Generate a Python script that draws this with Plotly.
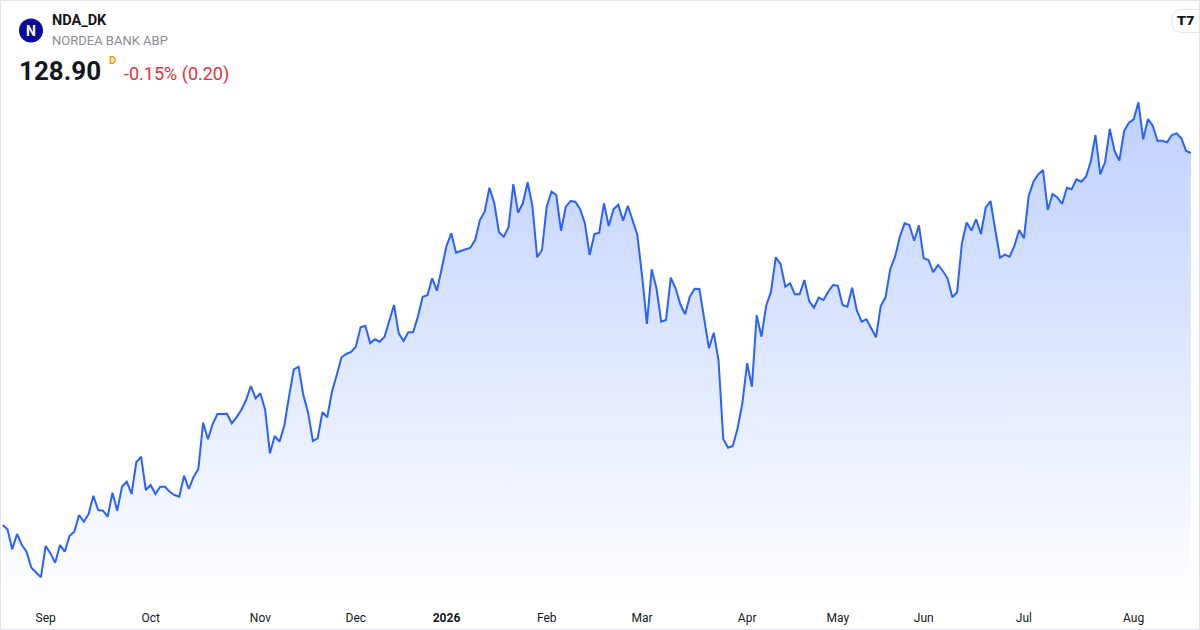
import plotly.graph_objs as go

##################################################
symbol = "NDA_DK"
company = "NORDEA BANK ABP"
last_price = "128.90"
change_text = "-0.15% (0.20)"

# daily closes, late Aug 2025 -> mid Aug 2026
close = [
    91.70, 91.27, 89.27, 90.80, 89.70, 89.03, 87.43, 86.97, 86.47, 89.60,
    88.87, 87.93, 89.70, 89.03, 90.60, 91.03, 92.70, 92.03, 92.80, 94.63,
    93.20, 93.13, 92.53, 94.93, 93.13, 95.53, 96.03, 94.80, 97.97, 98.53,
    95.20, 95.70, 94.80, 95.53, 95.53, 95.03, 94.70, 94.53, 96.63, 95.30,
    96.50, 97.30, 101.93, 100.27, 101.80, 102.80, 102.80, 102.83, 101.87, 102.47,
    103.20, 104.20, 105.60, 104.37, 104.87, 103.20, 98.87, 100.60, 100.03, 101.60,
    104.53, 107.27, 107.53, 104.70, 102.93, 100.10, 100.37, 102.97, 102.47, 105.03,
    106.70, 108.47, 108.80, 109.00, 109.53, 111.47, 111.63, 109.87, 110.27, 110.03,
    110.50, 112.03, 113.70, 110.87, 110.10, 110.97, 110.97, 112.53, 114.53, 114.67,
    116.37, 115.13, 117.53, 119.60, 120.87, 118.93, 119.10, 119.27, 119.43, 120.20,
    122.20, 123.03, 125.43, 123.93, 120.97, 120.53, 121.47, 125.80, 122.93, 123.87,
    125.97, 123.60, 118.47, 119.20, 123.53, 125.03, 124.70, 121.13, 123.53, 124.10,
    124.03, 123.27, 121.87, 118.70, 120.80, 120.93, 123.87, 121.60, 123.27, 123.73,
    122.13, 123.63, 122.20, 120.70, 116.53, 111.80, 117.27, 115.37, 112.03, 112.20,
    116.43, 115.37, 113.77, 112.77, 114.53, 115.33, 115.30, 112.20, 109.37, 110.93,
    108.20, 100.30, 99.43, 99.60, 101.37, 103.87, 107.87, 105.53, 112.67, 110.53,
    113.65, 115.03, 118.47, 117.80, 115.53, 115.87, 114.77, 114.77, 116.20, 114.10,
    113.43, 114.43, 114.20, 115.03, 115.70, 115.63, 113.70, 113.53, 115.43, 113.13,
    112.03, 112.27, 111.37, 110.47, 113.60, 114.47, 117.30, 118.53, 120.53, 121.87,
    121.70, 120.13, 121.67, 118.37, 118.20, 116.97, 117.70, 117.10, 116.37, 114.47,
    114.97, 119.87, 121.95, 121.15, 122.28, 120.80, 123.47, 124.10, 121.20, 118.43,
    118.73, 118.53, 119.60, 121.20, 120.37, 124.60, 126.03, 126.77, 127.20, 123.20,
    124.80, 124.47, 123.80, 125.43, 125.27, 126.27, 126.03, 126.53, 128.03, 130.70,
    126.77, 127.97, 131.30, 129.10, 128.13, 131.10, 131.93, 132.27, 133.97, 130.27,
    132.30, 131.63, 130.13, 130.13, 129.97, 130.70, 130.87, 130.37, 129.10, 128.90,
]

# first trading session of each month (index into close)
tick_idx = [9, 31, 54, 74, 93, 114, 134, 156, 175, 193, 214, 237]
tick_text = ["Sep", "Oct", "Nov", "Dec", "<b>2026</b>", "Feb", "Mar", "Apr", "May", "Jun", "Jul", "Aug"]

##################################################
W, H = 1200, 630
TOP, BOTTOM = 90, 603
y_lo, y_hi = 83.9, 135.2


def px(x):
    return x / W


def py(y):
    return (BOTTOM - y) / (BOTTOM - TOP)


fig = go.Figure()
fig.add_trace(go.Scatter(
    x=list(range(len(close))), y=close, mode="lines",
    line=dict(color="#2962ff", width=2),
    fill="tozeroy",
    fillgradient=dict(type="vertical", start=y_lo, stop=134.0,
                      colorscale=[[0, "rgba(41,98,255,0.0)"], [1, "rgba(41,98,255,0.30)"]]),
    hoverinfo="skip", showlegend=False,
))

##################################################
font = "Roboto, 'Noto Sans', sans-serif"
anns = [
    dict(x=px(31), y=py(30.5), text="<b>N</b>", font=dict(size=14, color="white"), xanchor="center"),
    dict(x=px(50), y=py(21), text="<b>" + symbol + "</b>", font=dict(size=14.5, color="#131722")),
    dict(x=px(50), y=py(41), text=company, font=dict(size=13, color="#8a8d96")),
    dict(x=px(17), y=py(71), text="<b>" + last_price + "</b>", font=dict(size=26, color="#131722")),
    dict(x=px(107), y=py(61), text="<b>D</b>", font=dict(size=11, color="#ff9800")),
    dict(x=px(122), y=py(74), text=change_text, font=dict(size=18, color="#e0323c")),
    dict(x=px(1186), y=py(21), text="<b>T7</b>", font=dict(size=13, color="#131722", family="DejaVu Sans"),
         xanchor="center"),
]
for a in anns:
    a.setdefault("xanchor", "left")
    a.update(xref="paper", yref="paper", yanchor="middle", showarrow=False)
    a["font"].setdefault("family", font)

badge = "M %f,%f L %f,%f L %f,%f L %f,%f Q %f,%f %f,%f Q %f,%f %f,%f Z" % (
    px(1183), py(9.5), px(1199.5), py(9.5), px(1199.5), py(32.5), px(1183), py(32.5),
    px(1171.5), py(32.5), px(1171.5), py(21), px(1171.5), py(9.5), px(1183), py(9.5))

shapes = [
    # card border
    dict(type="rect", x0=px(0.5), x1=px(1199.5), y0=py(629.5), y1=py(0.5),
         line=dict(color="#e0e3eb", width=1)),
    # logo
    dict(type="circle", x0=px(19), x1=px(43), y0=py(42.5), y1=py(18.5),
         fillcolor="#0a0aa0", line=dict(width=0)),
    # tv badge
    dict(type="path", path=badge, line=dict(color="#e3e5ea", width=1), fillcolor="white"),
]
for s in shapes:
    s.update(xref="paper", yref="paper", layer="above")

fig.update_layout(
    width=W, height=H,
    margin=dict(l=0, r=0, t=TOP, b=H - BOTTOM),
    paper_bgcolor="white", plot_bgcolor="white",
    font=dict(family=font, color="#131722"),
    shapes=shapes, annotations=anns,
    showlegend=False,
)
fig.update_xaxes(range=[-0.566, 250.9], tickvals=tick_idx, ticktext=tick_text,
                 showgrid=False, zeroline=False, showline=False, ticks="",
                 ticklabelstandoff=6,
                 tickfont=dict(size=12, color="#131722"), fixedrange=True)
fig.update_yaxes(range=[y_lo, y_hi], visible=False, showgrid=False, zeroline=False, fixedrange=True)

fig.write_html("out.html", config=dict(displayModeBar=False),
               post_script="document.body.style.margin='0';")
